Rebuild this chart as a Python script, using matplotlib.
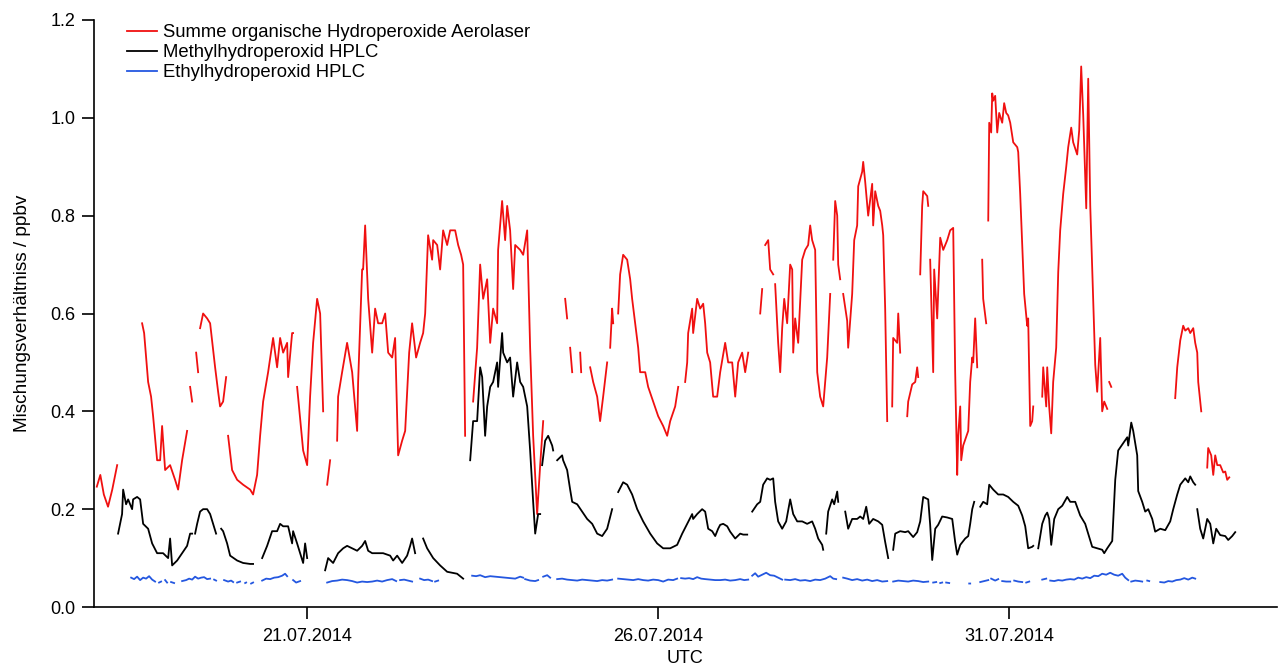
import numpy as np
import matplotlib
matplotlib.use("Agg")
import matplotlib.pyplot as plt
import matplotlib.dates as mdates
from datetime import datetime

plt.rcParams['font.family'] = ['Liberation Sans', 'DejaVu Sans']

# day 0 = 18.07.2014 00:00 UTC, times are days since then, values in ppbv
t_start = datetime(2014, 7, 18)

# Summe organische Hydroperoxide (Aerolaser), one sub-list per piece between data gaps
red_days = [
    [0.01, 0.06, 0.11, 0.17, 0.23, 0.30],
    [0.655, 0.684, 0.741, 0.783, 0.812, 0.869, 0.912, 0.94, 0.983, 1.054, 1.125, 1.168, 1.225, 1.296],
    [1.339, 1.368],
    [1.425, 1.453],
    [1.481, 1.524, 1.581, 1.624, 1.695, 1.738, 1.766, 1.809, 1.852],
    [1.880, 1.937, 2.009, 2.094, 2.194, 2.236, 2.293, 2.336, 2.379, 2.450, 2.521, 2.578, 2.621, 2.664,
     2.721, 2.735, 2.792, 2.806],
    [2.863, 2.949, 3.006, 3.048, 3.091, 3.148, 3.191, 3.234],
    [3.291, 3.333],
    [3.433, 3.447, 3.504, 3.575, 3.647, 3.689, 3.718, 3.732, 3.789, 3.803, 3.832, 3.875, 3.932, 3.974,
     4.017, 4.074, 4.117, 4.160, 4.217, 4.259, 4.302, 4.359, 4.402, 4.459, 4.501, 4.558, 4.615, 4.658,
     4.687, 4.729, 4.786, 4.801, 4.858, 4.900, 4.943, 5.000, 5.043, 5.114, 5.157, 5.199, 5.228, 5.256],
    [5.370, 5.427, 5.470, 5.513, 5.570, 5.613, 5.655, 5.712, 5.726, 5.783, 5.826, 5.855, 5.897, 5.940,
     5.969, 6.040, 6.083, 6.140, 6.182, 6.225, 6.282, 6.325, 6.368],
    [6.681, 6.709],
    [6.752, 6.781],
    [6.895, 6.909],
    [7.037, 7.080, 7.137, 7.179, 7.222, 7.279],
    [7.322, 7.350, 7.365],
    [7.436, 7.464, 7.507, 7.564, 7.607, 7.635, 7.678, 7.721, 7.749, 7.821, 7.863, 7.934, 8.006, 8.077,
     8.134, 8.177, 8.248, 8.291],
    [8.390, 8.419, 8.433, 8.490, 8.504, 8.561, 8.604, 8.647, 8.675, 8.704, 8.746, 8.789, 8.846, 8.889,
     8.960, 9.003, 9.060, 9.103, 9.145, 9.202, 9.245, 9.288],
    [9.459, 9.487],
    [9.530, 9.573, 9.601, 9.644],
    [9.672, 9.715, 9.744, 9.772, 9.801, 9.843, 9.886, 9.915, 9.929, 9.957, 10.000, 10.057, 10.100,
     10.142, 10.171, 10.199, 10.242, 10.271, 10.313, 10.356, 10.413, 10.456],
    [10.499, 10.527, 10.556, 10.570, 10.598],
    [10.641, 10.698, 10.712, 10.769, 10.798, 10.840, 10.855, 10.912, 10.926, 10.954, 10.997, 11.054,
     11.068, 11.097, 11.140, 11.168, 11.197, 11.211, 11.239, 11.268],
    [11.339, 11.353, 11.410, 11.425, 11.453],
    [11.553, 11.567, 11.624, 11.667, 11.695, 11.709],
    [11.738, 11.766, 11.781, 11.838, 11.852],
    [11.880, 11.923, 11.937, 11.980, 12.023, 12.066, 12.123, 12.165, 12.208, 12.236, 12.265, 12.279,
     12.308, 12.322, 12.350, 12.422, 12.450, 12.479, 12.493, 12.521, 12.550],
    [12.621, 12.635, 12.678],
    [12.707, 12.721, 12.749, 12.764, 12.778, 12.806, 12.835, 12.863, 12.906, 12.934, 12.963, 12.991,
     13.020, 13.063, 13.120, 13.134, 13.162, 13.191, 13.219, 13.262, 13.276, 13.305, 13.333, 13.348],
    [13.476, 13.490, 13.533, 13.547, 13.575, 13.604, 13.632, 13.675, 13.704, 13.732, 13.775, 13.818,
     13.846, 13.889, 13.917, 13.974, 14.003, 14.031, 14.060, 14.103, 14.131, 14.160, 14.202, 14.231,
     14.259, 14.302, 14.330, 14.359, 14.402],
    [14.430, 14.459],
    [15.370, 15.399, 15.442, 15.484, 15.513, 15.556, 15.584, 15.627, 15.655, 15.684, 15.698, 15.741],
    [15.826, 15.840, 15.883, 15.912, 15.940, 15.969, 16.011, 16.054, 16.083, 16.111, 16.140],
]
red_ppbv = [
    [0.246, 0.27, 0.23, 0.205, 0.24, 0.29],
    [0.58, 0.56, 0.46, 0.43, 0.39, 0.30, 0.30, 0.37, 0.28, 0.29, 0.26, 0.24, 0.30, 0.36],
    [0.45, 0.42],
    [0.52, 0.48],
    [0.57, 0.60, 0.59, 0.58, 0.49, 0.44, 0.41, 0.42, 0.47],
    [0.35, 0.28, 0.26, 0.25, 0.24, 0.23, 0.27, 0.35, 0.42, 0.48, 0.55, 0.49, 0.55, 0.52,
     0.54, 0.47, 0.56, 0.56],
    [0.45, 0.32, 0.29, 0.43, 0.54, 0.63, 0.60, 0.40],
    [0.25, 0.30],
    [0.34, 0.43, 0.48, 0.54, 0.48, 0.41, 0.36, 0.46, 0.69, 0.69, 0.78, 0.63, 0.52, 0.61,
     0.58, 0.58, 0.60, 0.52, 0.51, 0.55, 0.31, 0.34, 0.36, 0.52, 0.58, 0.51, 0.54, 0.56,
     0.60, 0.76, 0.71, 0.75, 0.74, 0.69, 0.77, 0.74, 0.77, 0.77, 0.74, 0.72, 0.70, 0.35],
    [0.42, 0.53, 0.70, 0.63, 0.67, 0.54, 0.61, 0.58, 0.73, 0.83, 0.75, 0.82, 0.77, 0.65,
     0.74, 0.73, 0.72, 0.77, 0.53, 0.35, 0.19, 0.29, 0.38],
    [0.63, 0.59],
    [0.53, 0.48],
    [0.52, 0.48],
    [0.49, 0.46, 0.43, 0.38, 0.43, 0.50],
    [0.53, 0.61, 0.58],
    [0.60, 0.68, 0.72, 0.71, 0.67, 0.63, 0.58, 0.53, 0.48, 0.48, 0.45, 0.42, 0.39, 0.37,
     0.35, 0.38, 0.41, 0.45],
    [0.46, 0.50, 0.56, 0.61, 0.56, 0.63, 0.61, 0.62, 0.58, 0.52, 0.50, 0.43, 0.43, 0.48,
     0.54, 0.50, 0.50, 0.43, 0.50, 0.52, 0.48, 0.52],
    [0.60, 0.65],
    [0.74, 0.75, 0.69, 0.68],
    [0.66, 0.54, 0.48, 0.57, 0.63, 0.58, 0.70, 0.69, 0.52, 0.59, 0.54, 0.71, 0.73,
     0.74, 0.78, 0.75, 0.73, 0.48, 0.43, 0.41, 0.51, 0.64],
    [0.71, 0.83, 0.80, 0.70, 0.67],
    [0.64, 0.585, 0.53, 0.64, 0.75, 0.78, 0.86, 0.89, 0.91, 0.87, 0.80, 0.865,
     0.78, 0.85, 0.82, 0.81, 0.78, 0.76, 0.61, 0.38],
    [0.41, 0.55, 0.54, 0.60, 0.52],
    [0.39, 0.42, 0.455, 0.46, 0.49, 0.47],
    [0.68, 0.82, 0.85, 0.84, 0.82],
    [0.71, 0.48, 0.69, 0.59, 0.755, 0.73, 0.75, 0.77, 0.775, 0.48, 0.27, 0.35,
     0.41, 0.30, 0.33, 0.36, 0.46, 0.51, 0.50, 0.59, 0.49],
    [0.71, 0.63, 0.58],
    [0.79, 0.99, 0.97, 1.05, 1.035, 1.045, 0.97, 1.01, 0.99, 1.03, 1.01, 1.005,
     0.99, 0.95, 0.94, 0.93, 0.845, 0.74, 0.64, 0.575, 0.59, 0.37, 0.38, 0.41],
    [0.43, 0.49, 0.41, 0.49, 0.41, 0.355, 0.46, 0.53, 0.685, 0.77, 0.845, 0.90,
     0.94, 0.98, 0.95, 0.925, 0.975, 1.105, 1.005, 0.815, 1.08, 0.82, 0.625, 0.495,
     0.44, 0.55, 0.40, 0.42, 0.405],
    [0.46, 0.45],
    [0.427, 0.49, 0.545, 0.575, 0.565, 0.57, 0.56, 0.57, 0.54, 0.52, 0.46, 0.40],
    [0.285, 0.325, 0.31, 0.27, 0.31, 0.29, 0.29, 0.275, 0.277, 0.26, 0.265],
]

# Methylhydroperoxid (HPLC)
black_days = [
    [0.313, 0.370, 0.385, 0.427, 0.456, 0.513, 0.527, 0.584, 0.627, 0.670, 0.741, 0.798, 0.869, 0.954,
     1.026, 1.054, 1.083, 1.154, 1.225, 1.296, 1.339, 1.368],
    [1.410, 1.439, 1.481, 1.524, 1.581, 1.624, 1.667, 1.709],
    [1.781, 1.809, 1.866, 1.909, 2.009, 2.094, 2.194, 2.236],
    [2.365, 2.436, 2.507, 2.578, 2.621, 2.664, 2.735, 2.792, 2.806, 2.863, 2.906, 2.949, 2.977, 3.006],
    [3.262, 3.305, 3.376, 3.447, 3.519, 3.575, 3.647, 3.718, 3.789, 3.832, 3.875, 3.932, 4.003, 4.088,
     4.188, 4.231, 4.288, 4.359, 4.430, 4.473, 4.501, 4.544],
    [4.658, 4.715, 4.801, 4.900, 5.000, 5.142, 5.228],
    [5.328, 5.370, 5.427, 5.470, 5.499, 5.541, 5.570, 5.613, 5.655, 5.712, 5.726, 5.783, 5.798, 5.855,
     5.897, 5.940, 5.997, 6.040, 6.083, 6.140, 6.182, 6.225, 6.254, 6.296, 6.325],
    [6.353, 6.396, 6.439, 6.496, 6.510],
    [6.567, 6.638, 6.652, 6.709, 6.752, 6.781, 6.852, 6.923, 6.994, 7.066, 7.137, 7.208, 7.279, 7.350],
    [7.436, 7.507, 7.564, 7.635, 7.707, 7.792, 7.892, 7.991, 8.077, 8.177, 8.276, 8.348, 8.419, 8.490,
     8.504, 8.561, 8.632, 8.675, 8.718, 8.775, 8.818, 8.860, 8.889, 8.932, 8.989, 9.031, 9.103, 9.174,
     9.217, 9.274],
    [9.345, 9.416, 9.459, 9.501, 9.558, 9.601, 9.644, 9.672, 9.715, 9.772, 9.829, 9.886, 9.929, 9.986,
     10.057, 10.128, 10.199, 10.242, 10.285, 10.342, 10.356],
    [10.399, 10.427, 10.484, 10.513, 10.556, 10.570],
    [10.670, 10.712, 10.769, 10.840, 10.883, 10.926, 10.969, 11.011, 11.068, 11.140, 11.197, 11.239,
     11.282],
    [11.353, 11.382, 11.453, 11.524, 11.567, 11.638, 11.695, 11.738, 11.781, 11.852, 11.880, 11.909,
     11.952, 11.994, 12.051, 12.123, 12.194, 12.236, 12.265, 12.308, 12.379, 12.422, 12.450, 12.479,
     12.507],
    [12.593, 12.635, 12.692, 12.721, 12.778, 12.849, 12.920, 12.991, 13.063, 13.134, 13.191, 13.234,
     13.276, 13.333, 13.348],
    [13.419, 13.476, 13.519, 13.547, 13.575, 13.604, 13.647, 13.704, 13.761, 13.832, 13.875, 13.946,
     14.017, 14.088, 14.131, 14.188, 14.259, 14.330, 14.359, 14.402, 14.473, 14.516, 14.558, 14.630,
     14.687, 14.701, 14.744, 14.772, 14.829, 14.843, 14.900, 14.943, 14.986, 15.043, 15.085, 15.157,
     15.228, 15.299, 15.342, 15.399, 15.442, 15.513, 15.556, 15.584, 15.627, 15.655],
    [15.684, 15.726, 15.769, 15.826, 15.869, 15.912, 15.954, 16.011, 16.083, 16.125, 16.182, 16.225],
]
black_ppbv = [
    [0.15, 0.19, 0.24, 0.21, 0.22, 0.20, 0.22, 0.225, 0.22, 0.17, 0.16, 0.13, 0.11, 0.11,
     0.10, 0.14, 0.085, 0.095, 0.11, 0.125, 0.15, 0.15],
    [0.15, 0.17, 0.195, 0.20, 0.20, 0.19, 0.17, 0.15],
    [0.16, 0.155, 0.13, 0.105, 0.095, 0.09, 0.088, 0.088],
    [0.10, 0.125, 0.155, 0.155, 0.17, 0.165, 0.165, 0.13, 0.155, 0.13, 0.11, 0.09, 0.13, 0.10],
    [0.075, 0.10, 0.09, 0.11, 0.12, 0.125, 0.12, 0.115, 0.125, 0.135, 0.115, 0.11, 0.11, 0.11,
     0.105, 0.095, 0.105, 0.09, 0.105, 0.125, 0.14, 0.11],
    [0.14, 0.12, 0.10, 0.085, 0.072, 0.068, 0.058],
    [0.30, 0.38, 0.38, 0.49, 0.47, 0.35, 0.41, 0.45, 0.46, 0.50, 0.45, 0.56, 0.52, 0.50,
     0.51, 0.43, 0.50, 0.46, 0.45, 0.41, 0.32, 0.215, 0.15, 0.19, 0.19],
    [0.29, 0.34, 0.35, 0.33, 0.32],
    [0.30, 0.31, 0.30, 0.28, 0.24, 0.215, 0.21, 0.195, 0.18, 0.17, 0.15, 0.145, 0.16, 0.20],
    [0.235, 0.255, 0.25, 0.23, 0.20, 0.175, 0.15, 0.13, 0.12, 0.12, 0.127, 0.15, 0.17, 0.19,
     0.18, 0.19, 0.20, 0.195, 0.16, 0.155, 0.145, 0.16, 0.168, 0.17, 0.165, 0.154, 0.14, 0.15,
     0.148, 0.148],
    [0.195, 0.21, 0.215, 0.25, 0.263, 0.26, 0.263, 0.215, 0.175, 0.16, 0.175, 0.22, 0.19, 0.175,
     0.175, 0.17, 0.175, 0.16, 0.14, 0.127, 0.117],
    [0.15, 0.195, 0.22, 0.21, 0.236, 0.215],
    [0.195, 0.16, 0.18, 0.18, 0.185, 0.18, 0.205, 0.17, 0.18, 0.175, 0.168, 0.133, 0.10],
    [0.117, 0.15, 0.155, 0.153, 0.155, 0.143, 0.153, 0.175, 0.225, 0.22, 0.168, 0.096,
     0.16, 0.168, 0.185, 0.183, 0.18, 0.133, 0.107, 0.127, 0.14, 0.145, 0.17, 0.20, 0.215],
    [0.205, 0.215, 0.21, 0.25, 0.24, 0.23, 0.23, 0.225, 0.215, 0.207, 0.187, 0.165, 0.12, 0.123, 0.125],
    [0.12, 0.17, 0.187, 0.193, 0.18, 0.127, 0.18, 0.20, 0.207, 0.225, 0.215, 0.215,
     0.187, 0.17, 0.15, 0.123, 0.12, 0.117, 0.11, 0.12, 0.135, 0.26, 0.32, 0.335,
     0.347, 0.33, 0.377, 0.36, 0.31, 0.237, 0.215, 0.195, 0.20, 0.18, 0.154, 0.16,
     0.157, 0.175, 0.20, 0.23, 0.25, 0.263, 0.255, 0.267, 0.255, 0.25],
    [0.20, 0.16, 0.14, 0.18, 0.17, 0.13, 0.16, 0.147, 0.145, 0.137, 0.145, 0.153],
]

# Ethylhydroperoxid (HPLC)
blue_days = [
    [0.499, 0.541, 0.584, 0.627, 0.670, 0.712, 0.755, 0.798, 0.840],
    [0.897, 0.926], [0.983, 1.011], [1.068, 1.111],
    [1.225, 1.282, 1.325, 1.368, 1.410, 1.453, 1.496, 1.538, 1.581, 1.624],
    [1.681, 1.709],
    [1.823, 1.880, 1.923, 1.952],
    [2.009, 2.051], [2.123, 2.137], [2.208, 2.236],
    [2.365, 2.422, 2.479, 2.536, 2.593, 2.650, 2.692, 2.721],
    [2.806, 2.849, 2.906],
    [3.291, 3.362, 3.433, 3.504, 3.575, 3.647, 3.718, 3.789, 3.860, 3.932, 4.003, 4.074, 4.145, 4.217, 4.274],
    [4.330, 4.387, 4.444, 4.501],
    [4.615, 4.672, 4.729, 4.786],
    [4.829, 4.872],
    [5.356, 5.413, 5.470, 5.541, 5.613, 5.684, 5.755, 5.826, 5.897, 5.969, 6.040, 6.083],
    [6.111, 6.182, 6.254, 6.296],
    [6.368, 6.425, 6.467],
    [6.567, 6.638, 6.709, 6.781, 6.852, 6.923, 6.994, 7.066, 7.137, 7.208, 7.279, 7.350],
    [7.436, 7.507, 7.578, 7.650, 7.721, 7.792, 7.863, 7.934, 8.006, 8.077, 8.148, 8.219, 8.276],
    [8.333, 8.390, 8.447, 8.504, 8.561, 8.618, 8.675, 8.746, 8.818, 8.889, 8.960, 9.031, 9.103, 9.174,
     9.231, 9.288],
    [9.345, 9.387, 9.430, 9.487, 9.544, 9.601, 9.658, 9.715, 9.772],
    [9.815, 9.886, 9.957, 10.028, 10.100, 10.171, 10.242, 10.313, 10.385, 10.456, 10.499, 10.541],
    [10.641, 10.698, 10.769, 10.840, 10.912, 10.983, 11.054, 11.125, 11.197, 11.268],
    [11.353, 11.425, 11.496, 11.567, 11.638, 11.709, 11.781, 11.852],
    [11.923, 11.966], [12.023, 12.051], [12.108, 12.151], [12.436, 12.450],
    [12.593, 12.650, 12.707], [12.749, 12.806, 12.849], [12.906, 12.963, 13.020],
    [13.077, 13.134, 13.191], [13.248, 13.291], [13.476, 13.533],
    [13.590, 13.647, 13.704, 13.761, 13.818, 13.875, 13.932, 13.989, 14.046, 14.103, 14.160, 14.217,
     14.274, 14.330, 14.387, 14.444, 14.501, 14.558, 14.615, 14.658, 14.701],
    [14.744, 14.801, 14.858, 14.900],
    [14.972, 15.000],
    [15.157, 15.214, 15.271, 15.328, 15.385, 15.442, 15.499, 15.556, 15.613, 15.655],
]
blue_ppbv = [
    [0.06, 0.057, 0.062, 0.055, 0.06, 0.058, 0.063, 0.056, 0.052],
    [0.05, 0.052], [0.055, 0.05], [0.051, 0.049],
    [0.053, 0.055, 0.058, 0.056, 0.062, 0.058, 0.06, 0.061, 0.057, 0.058],
    [0.056, 0.054],
    [0.055, 0.052, 0.054, 0.051],
    [0.05, 0.052], [0.049, 0.05], [0.048, 0.05],
    [0.054, 0.058, 0.057, 0.06, 0.061, 0.064, 0.068, 0.063],
    [0.055, 0.05, 0.053],
    [0.05, 0.053, 0.054, 0.056, 0.055, 0.053, 0.05, 0.052, 0.051, 0.052, 0.054, 0.052, 0.055, 0.057, 0.053],
    [0.055, 0.056, 0.054, 0.052],
    [0.058, 0.055, 0.056, 0.053],
    [0.052, 0.054],
    [0.064, 0.063, 0.065, 0.061, 0.063, 0.062, 0.061, 0.06, 0.059, 0.058, 0.062, 0.06],
    [0.057, 0.054, 0.053, 0.055],
    [0.062, 0.065, 0.06],
    [0.057, 0.058, 0.056, 0.055, 0.054, 0.056, 0.055, 0.054, 0.053, 0.055, 0.054, 0.056],
    [0.058, 0.057, 0.056, 0.055, 0.057, 0.055, 0.054, 0.056, 0.055, 0.052, 0.056, 0.055, 0.058],
    [0.059, 0.058, 0.059, 0.057, 0.061, 0.058, 0.057, 0.056, 0.055, 0.055, 0.056, 0.054, 0.055, 0.057,
     0.055, 0.056],
    [0.064, 0.069, 0.062, 0.066, 0.07, 0.065, 0.064, 0.06, 0.056],
    [0.056, 0.055, 0.057, 0.054, 0.055, 0.053, 0.056, 0.055, 0.058, 0.063, 0.058, 0.057],
    [0.06, 0.058, 0.055, 0.057, 0.054, 0.056, 0.053, 0.055, 0.052, 0.053],
    [0.052, 0.054, 0.053, 0.052, 0.054, 0.053, 0.051, 0.052],
    [0.05, 0.051], [0.049, 0.05], [0.05, 0.049], [0.048, 0.048],
    [0.051, 0.053, 0.055], [0.058, 0.054, 0.057], [0.053, 0.052, 0.052],
    [0.054, 0.052, 0.051], [0.05, 0.052], [0.056, 0.058],
    [0.054, 0.053, 0.055, 0.054, 0.056, 0.057, 0.056, 0.06, 0.058, 0.061, 0.059, 0.064,
     0.063, 0.068, 0.066, 0.07, 0.066, 0.064, 0.068, 0.06, 0.055],
    [0.052, 0.054, 0.053, 0.052],
    [0.054, 0.053],
    [0.051, 0.05, 0.053, 0.052, 0.055, 0.056, 0.059, 0.056, 0.06, 0.058],
]

labels = ['Summe organische Hydroperoxide Aerolaser', 'Methylhydroperoxid HPLC', 'Ethylhydroperoxid HPLC']
colors = ['#f01010', 'black', '#2457e0']


def join(segs):
    # glue the pieces together with NaN so the line breaks at the gaps
    out = []
    for s in segs:
        out.extend(s)
        out.append(np.nan)
    return np.array(out[:-1], dtype=float)


t0 = mdates.date2num(t_start)

fig = plt.figure(figsize=(12.79, 6.68), dpi=100)
ax = fig.add_axes([94 / 1279, 1 - 607 / 668, (1277 - 94) / 1279, 587 / 668])

series = [(red_days, red_ppbv), (black_days, black_ppbv), (blue_days, blue_ppbv)]
for (d, v), lab, col in zip(series, labels, colors):
    ax.plot(t0 + join(d), join(v), color=col, lw=1.3, label=lab)

ax.set_xlim(t0 - 0.03, t0 + 16.82)
ax.set_ylim(0, 1.2)
ax.set_yticks(np.arange(0, 1.21, 0.2))
ax.yaxis.set_major_formatter('{x:.1f}')
ax.xaxis.set_major_locator(mdates.DayLocator(bymonthday=[21, 26, 31]))
ax.xaxis.set_major_formatter(mdates.DateFormatter('%d.%m.%Y'))

for s in ['top', 'right']:
    ax.spines[s].set_visible(False)
for s in ['left', 'bottom']:
    ax.spines[s].set_linewidth(1.2)
ax.tick_params(direction='out', length=8.5, width=1.2, labelsize=13)
ax.tick_params(axis='y', pad=5)
ax.tick_params(axis='x', pad=6.5)

ax.set_xlabel('UTC', fontsize=13)
ax.xaxis.set_label_coords(0.5, -0.074)
ax.set_ylabel('Mischungsverhältniss / ppbv', fontsize=13.7)
ax.yaxis.set_label_coords(-0.053, 0.5)

ax.legend(loc='upper left', bbox_to_anchor=(0.028, 0.993), frameon=False, fontsize=13.3,
          borderpad=0, borderaxespad=0, handlelength=1.6, handletextpad=0.35, labelspacing=0.16)

fig.savefig('out.png', dpi=100)
